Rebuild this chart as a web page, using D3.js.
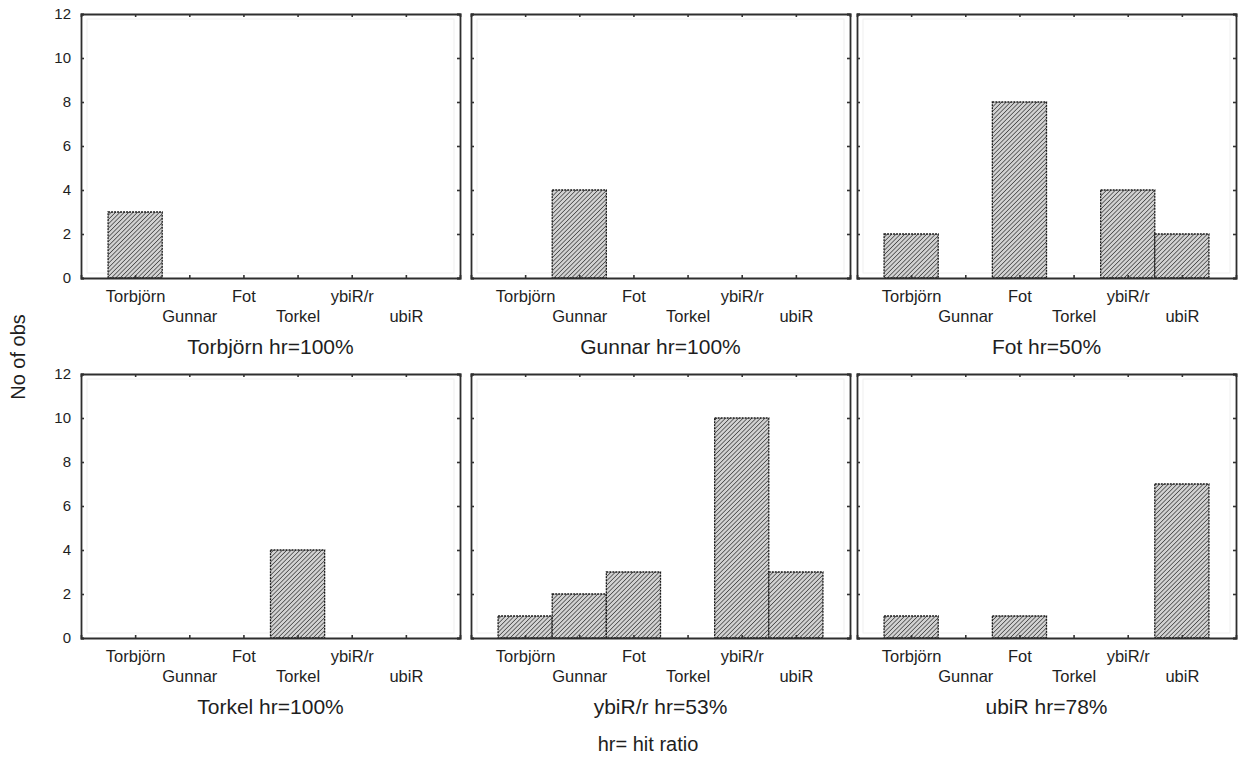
<!DOCTYPE html>
<html>
<head>
<meta charset="utf-8">
<script src="https://cdn.jsdelivr.net/npm/d3@7"></script>
<style>
  html, body { margin: 0; padding: 0; background: #fff; }
  svg { display: block; font-family: "Liberation Sans", Arial, Helvetica, sans-serif; }
</style>
</head>
<body>
<svg id="chart" width="1238" height="759"></svg>
<script>
// Classified observations per speaker, one small histogram per true speaker
const categories = ["Torbjörn", "Gunnar", "Fot", "Torkel", "ybiR/r", "ubiR"];
const countsTorbjorn = [3, 0, 0, 0, 0, 0];
const countsGunnar   = [0, 4, 0, 0, 0, 0];
const countsFot      = [2, 0, 8, 0, 4, 2];
const countsTorkel   = [0, 0, 0, 4, 0, 0];
const countsYbiR     = [1, 2, 3, 0, 10, 3];
const countsUbiR     = [1, 0, 1, 0, 0, 7];
const hitRatios = ["100%", "100%", "50%", "100%", "53%", "78%"];
const yTicks = [0, 2, 4, 6, 8, 10, 12];
const yLabel = "No of obs";
const footnote = "hr= hit ratio";

const panelCounts = [countsTorbjorn, countsGunnar, countsFot, countsTorkel, countsYbiR, countsUbiR];

const svg = d3.select("#chart");
const ink = "#1e1e1e";

// hatched fill used by every bar
const defs = svg.append("defs");
const pat = defs.append("pattern")
  .attr("id", "hatch")
  .attr("patternUnits", "userSpaceOnUse")
  .attr("width", 3.1).attr("height", 3.1)
  .attr("patternTransform", "rotate(45)");
pat.append("rect").attr("width", 3.1).attr("height", 3.1).attr("fill", "#d2d2d2");
pat.append("line").attr("x1", 0).attr("y1", 0).attr("x2", 0).attr("y2", 3.1)
  .attr("stroke", "#3a3a3a").attr("stroke-width", 1.4);

const colLeft = [81, 471, 857];
const rowTop = [14, 374];
const pw = 379, ph = 264;

panelCounts.forEach((counts, p) => {
  const col = p % 3, row = Math.floor(p / 3);
  const g = svg.append("g").attr("transform", `translate(${colLeft[col]},${rowTop[row]})`);

  const x = d3.scaleLinear().domain([0, categories.length + 1]).range([0, pw]);
  const y = d3.scaleLinear().domain([0, 12]).range([ph, 0]);

  // faint inner frame
  g.append("rect").attr("x", 6).attr("y", 5).attr("width", pw - 12).attr("height", ph - 10)
    .attr("fill", "none").attr("stroke", "#efefef").attr("stroke-width", 1);

  // bars
  g.selectAll("rect.bar").data(counts.map((v, i) => ({ v, i })).filter(d => d.v > 0))
    .join("rect").attr("class", "bar")
    .attr("x", d => x(d.i + 0.5))
    .attr("width", d => x(d.i + 1.5) - x(d.i + 0.5))
    .attr("y", d => y(d.v))
    .attr("height", d => y(0) - y(d.v))
    .attr("fill", "url(#hatch)")
    .attr("stroke", "#1a1a1a").attr("stroke-width", 1.3)
    .attr("stroke-dasharray", "2,1");

  const catPos = categories.map((c, i) => i + 1);

  // left axis (labels only on first column)
  const left = g.append("g").call(
    d3.axisLeft(y).tickValues(yTicks).tickSize(-3).tickPadding(10)
      .tickFormat(col === 0 ? d3.format("d") : () => ""));
  // right axis
  const right = g.append("g").attr("transform", `translate(${pw},0)`)
    .call(d3.axisRight(y).tickValues(yTicks).tickSize(-3).tickFormat(() => ""));
  // top axis
  const top = g.append("g")
    .call(d3.axisTop(x).tickValues(catPos).tickSize(-3).tickFormat(() => ""));
  // bottom axis with staggered category names
  const bottom = g.append("g").attr("transform", `translate(0,${ph})`)
    .call(d3.axisBottom(x).tickValues(catPos).tickSize(-3)
      .tickFormat((d, i) => categories[i]));

  [left, right, top, bottom].forEach(a => {
    a.select(".domain").attr("stroke", "#2e2e2e").attr("stroke-width", 1.8);
    a.selectAll(".tick line").attr("stroke", "#333").attr("stroke-width", 1.6);
    a.selectAll("text").attr("fill", ink);
  });
  left.selectAll("text").attr("font-size", 15).attr("font-family", "Liberation Sans, Arial, sans-serif");
  bottom.selectAll("text")
    .attr("font-size", 16.5)
    .attr("font-family", "Liberation Sans, Arial, sans-serif")
    .attr("dy", null)
    .attr("y", (d, i) => i % 2 === 0 ? 24 : 44);

  // panel title
  g.append("text")
    .attr("x", pw / 2).attr("y", ph + 76)
    .attr("text-anchor", "middle")
    .attr("font-size", 21).attr("fill", ink)
    .text(`${categories[p]} hr=${hitRatios[p]}`);
});

// shared y label
svg.append("text")
  .attr("transform", "translate(25,357) rotate(-90)")
  .attr("text-anchor", "middle")
  .attr("font-size", 20).attr("fill", ink)
  .text(yLabel);

// footnote
svg.append("text")
  .attr("x", 648).attr("y", 751)
  .attr("text-anchor", "middle")
  .attr("font-size", 20).attr("fill", ink)
  .text(footnote);
</script>
</body>
</html>
